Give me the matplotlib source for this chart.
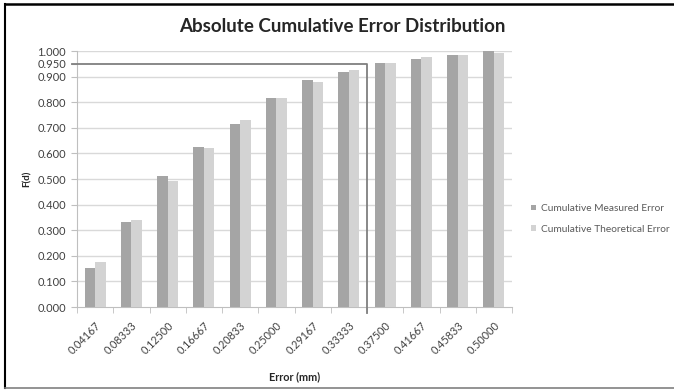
import matplotlib
matplotlib.use("Agg")
import matplotlib.pyplot as plt
from matplotlib.lines import Line2D
import numpy as np

errors = ["0.04167", "0.08333", "0.12500", "0.16667", "0.20833", "0.25000",
          "0.29167", "0.33333", "0.37500", "0.41667", "0.45833", "0.50000"]
measured = [0.151, 0.333, 0.513, 0.625, 0.714, 0.816, 0.887, 0.917, 0.952, 0.970, 0.985, 1.000]
theoretical = [0.175, 0.341, 0.492, 0.622, 0.730, 0.816, 0.880, 0.925, 0.954, 0.975, 0.985, 0.994]
yticks = [0.0, 0.1, 0.2, 0.3, 0.4, 0.5, 0.6, 0.7, 0.8, 0.9, 0.95, 1.0]
level = 0.95
cut = 7.5  # boundary between 0.33333 and 0.37500

plt.rcParams['font.family'] = ['Lato', 'DejaVu Sans']

fig = plt.figure(figsize=(6.74, 3.90), dpi=100)
ax = fig.add_axes([77 / 674, 1 - 307 / 390, 435 / 674, 256 / 390])

x = np.arange(len(errors))
w = 0.29
ax.bar(x - w / 2, measured, w, color="#a5a5a5", label="Cumulative Measured Error", zorder=3)
ax.bar(x + w / 2, theoretical, w, color="#d3d3d3", label="Cumulative Theoretical Error", zorder=3)

for v in yticks:
    if v != level and v > 0:
        ax.axhline(v, color="#d9d9d9", lw=1, zorder=1)

# 95% marker box
ax.plot([-0.5 - 0.15, cut, cut], [level, level, -0.025], color="#7f7f7f", lw=1.3,
        clip_on=False, zorder=4)

ax.set_xlim(-0.5, len(errors) - 0.5)
ax.set_ylim(0, 1.0)
ax.set_yticks(yticks)
ax.set_yticklabels(["%.3f" % v for v in yticks], fontsize=8, color="#404040")
ax.set_xticks(x)
ax.set_xticklabels(errors, rotation=45, ha="right", rotation_mode="anchor",
                   fontsize=7.8, color="#404040")
ax.set_xticks(np.arange(-0.5, len(errors), 1.0), minor=True)
ax.tick_params(axis="x", which="major", length=0, pad=9)
ax.tick_params(axis="x", which="minor", length=4, color="#bfbfbf")
ax.tick_params(axis="y", length=4, color="#bfbfbf", pad=4)

for s in ["top", "right"]:
    ax.spines[s].set_visible(False)
ax.spines["left"].set_color("#bfbfbf")
ax.spines["bottom"].set_color("#bfbfbf")

ax.set_ylabel("F(d)", fontsize=7, fontweight="bold", color="#262626", labelpad=4)
ax.set_xlabel("Error (mm)", fontsize=7.8, fontweight="bold", color="#262626", labelpad=11)
fig.text(342 / 674, 1 - 27 / 390, "Absolute Cumulative Error Distribution",
         ha="center", va="center", fontsize=13.5, fontweight="bold", color="#262626")

ax.legend(loc="upper left", bbox_to_anchor=(522 / 674, 1 - 195 / 390),
          bbox_transform=fig.transFigure, frameon=False, fontsize=7.3,
          handlelength=0.45, handleheight=0.45, handletextpad=0.5,
          labelspacing=1.15, labelcolor="#595959")

# outer frame
fig.add_artist(Line2D([5 / 674, 1], [1 - 4 / 390] * 2, transform=fig.transFigure, color="black", lw=1.8))
fig.add_artist(Line2D([5 / 674] * 2, [1 - 4 / 390, 1 - 388 / 390], transform=fig.transFigure, color="black", lw=1.5))
fig.add_artist(Line2D([5 / 674, 1], [1 - 388 / 390] * 2, transform=fig.transFigure, color="#808080", lw=1.2))

fig.savefig("out.png", dpi=100)
